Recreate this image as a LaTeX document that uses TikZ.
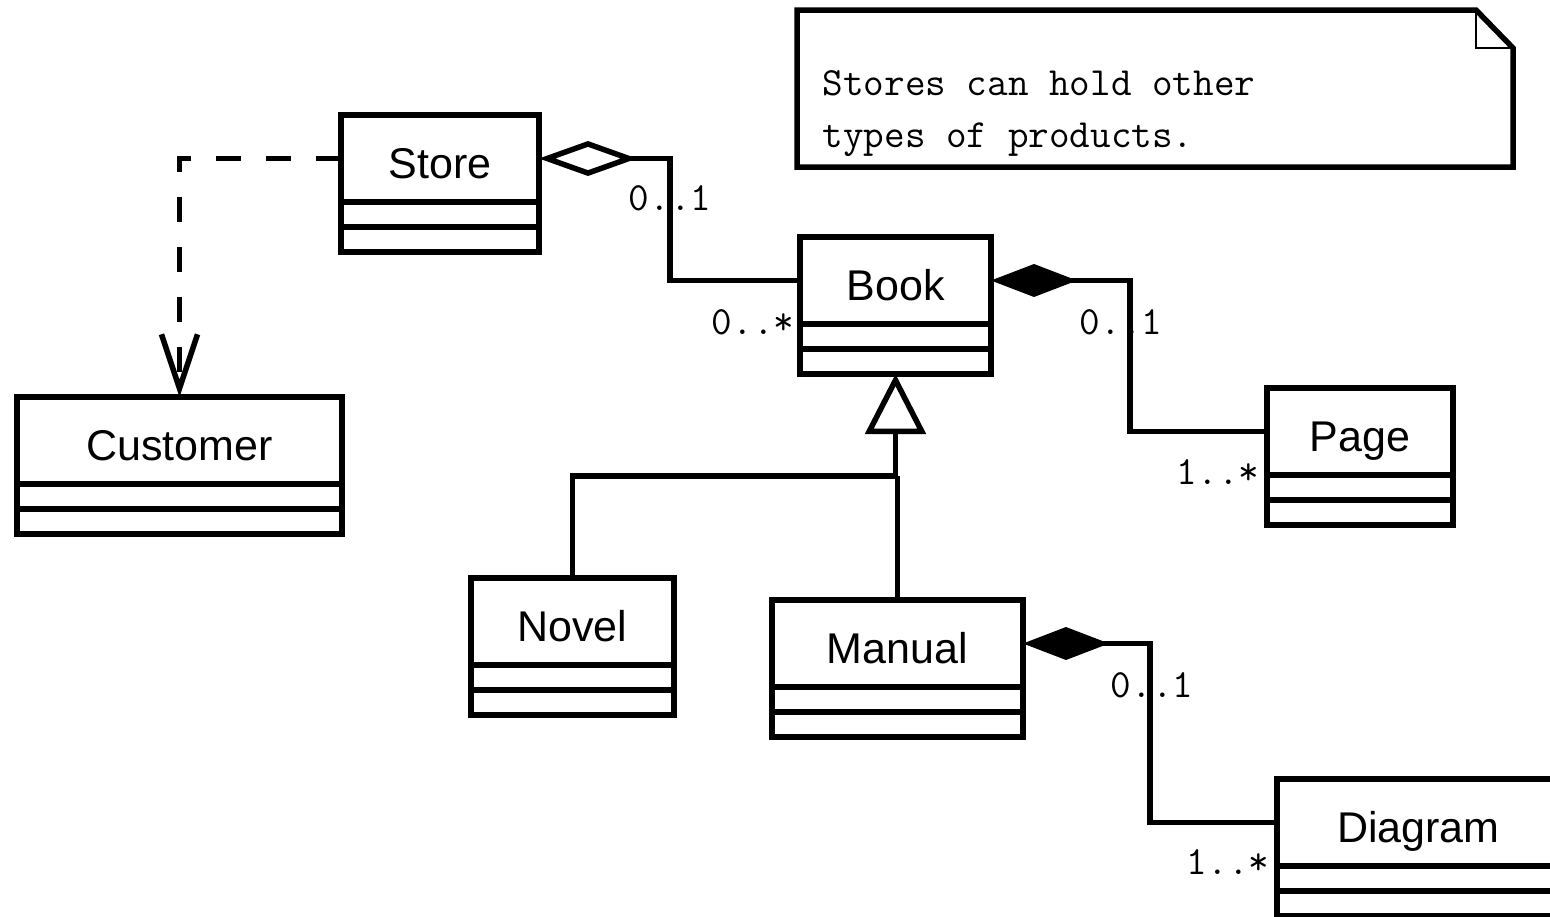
\documentclass[tikz,border=0pt]{standalone}
\usepackage{fontspec}
\setsansfont{Liberation Sans}
\usetikzlibrary{arrows.meta}
\begin{document}
\begin{tikzpicture}[x=1pt,y=-1pt,
  line width=5.5pt, line join=miter,
  namebox/.style={draw, line width=5.5pt, outer sep=0pt, inner sep=0pt,
    anchor=north west, minimum height=87pt, minimum width=#1,
    text height=40pt, text depth=0pt,
    font=\sffamily\fontsize{43}{50}\selectfont},
  compbox/.style={draw, line width=5.5pt, outer sep=0pt, inner sep=0pt,
    anchor=north, minimum height=25pt, minimum width=#1},
  mult/.style={font=\ttfamily\fontsize{40}{48}\selectfont, inner sep=0pt},
  notetext/.style={font=\ttfamily\fontsize{40}{48}\selectfont, inner sep=0pt, anchor=base west},
  depline/.style={dash pattern=on 25pt off 25pt,
    -{Straight Barb[length=54pt,width=36pt]}},
  aggr/.style={{Diamond[open,length=98pt,width=35pt]}-},
  compo/.style={{Diamond[length=86pt,width=33pt]}-},
  gen/.style={-{Triangle[open,length=60pt,width=60pt]}},
]
\useasboundingbox (0,0) rectangle (1550,916);
\clip (0,0) rectangle (1550,916);

% classes: name compartment plus two empty compartments
\node[namebox=198pt] (store) at (341,115) {Store};
\node[compbox=198pt] (storeA) at (store.south) {};
\node[compbox=198pt] (storeB) at (storeA.south) {};

\node[namebox=325pt] (customer) at (17,397) {Customer};
\node[compbox=325pt] (customerA) at (customer.south) {};
\node[compbox=325pt] (customerB) at (customerA.south) {};

\node[namebox=191pt] (book) at (800,237) {Book};
\node[compbox=191pt] (bookA) at (book.south) {};
\node[compbox=191pt] (bookB) at (bookA.south) {};

\node[namebox=186pt] (page) at (1267,388) {Page};
\node[compbox=186pt] (pageA) at (page.south) {};
\node[compbox=186pt] (pageB) at (pageA.south) {};

\node[namebox=203pt] (novel) at (471,578) {Novel};
\node[compbox=203pt] (novelA) at (novel.south) {};
\node[compbox=203pt] (novelB) at (novelA.south) {};

\node[namebox=251pt] (manual) at (772,600) {Manual};
\node[compbox=251pt] (manualA) at (manual.south) {};
\node[compbox=251pt] (manualB) at (manualA.south) {};

\node[namebox=283pt] (diagram) at (1277,779) {Diagram};
\node[compbox=283pt] (diagramA) at (diagram.south) {};
\node[compbox=283pt] (diagramB) at (diagramA.south) {};

% note with folded corner
\node[minimum width=716pt, minimum height=157pt, inner sep=0pt, outer sep=0pt,
  anchor=north west] (note) at (797,10) {};
\draw (note.north west) -- ([xshift=-37pt]note.north east)
  -- ([yshift=-38pt]note.north east) -- (note.south east)
  -- (note.south west) -- cycle;
\draw[line width=2.5pt] ([xshift=-37pt]note.north east)
  -- ([xshift=-37pt,yshift=-38pt]note.north east)
  -- ([yshift=-38pt]note.north east);
\node[notetext] (noteA) at (820,95) {Stores can hold other};
\node[notetext] (noteB) at (820,147) {types of products.};

% bend positions of the connectors
\coordinate (sbx) at (670,0);
\coordinate (bpx) at (1130,0);
\coordinate (mdx) at (1150,0);
\coordinate (gy) at (0,476);

% dependency
\draw[depline] (store.west) -| (customer.north);

% aggregation and compositions
\draw[aggr] (store.east) -| (sbx |- book.west) -- (book.west);
\draw[compo] (book.east) -| (bpx |- page.west) -- (page.west);
\draw[compo] (manual.east) -| (mdx |- diagram.west) -- (diagram.west);

% generalisation
\draw[gen] (novel.north) |- (bookB.south |- gy) -- (bookB.south);
\draw (manual.north) -- (manual.north |- gy);

% multiplicities
\node[mult] (m1) at (670,198) {0..1};
\node[mult, anchor=east] (m2) at (797,322) {0..*};
\node[mult] (m3) at (1121,322) {0..1};
\node[mult, anchor=east] (m4) at (1262,472) {1..*};
\node[mult] (m5) at (1152,685) {0..1};
\node[mult, anchor=east] (m6) at (1272,862) {1..*};
\end{tikzpicture}
\end{document}
